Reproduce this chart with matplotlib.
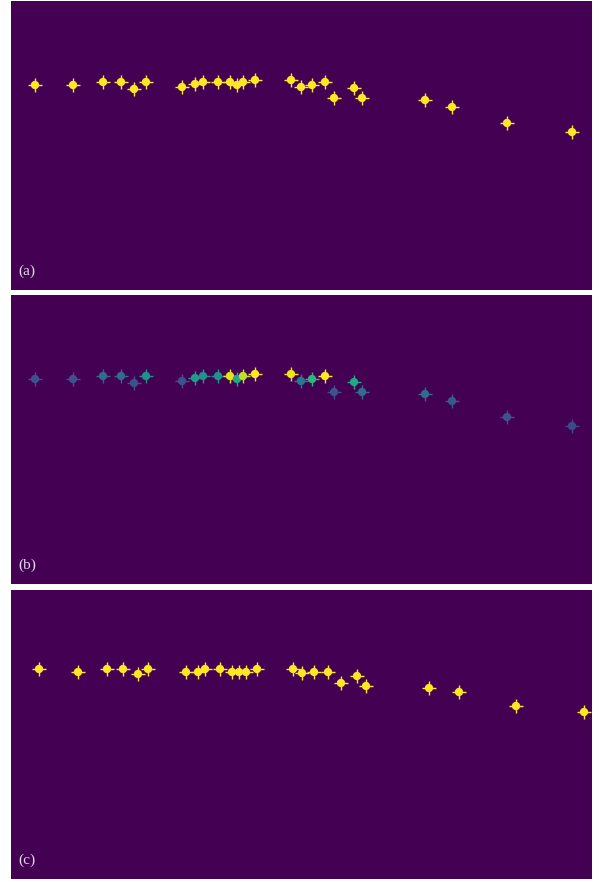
import numpy as np
import matplotlib
matplotlib.use('Agg')
import matplotlib.pyplot as plt

# blob centres, in pixel units inside each 581 x 289 panel
x_ab = [24, 62, 92, 110, 123, 135, 171, 184, 192, 207, 219, 226, 232,
        244, 280, 290, 301, 314, 323, 343, 351, 414, 441, 496, 561]
y_ab = [84, 84, 81, 81, 88, 81, 86, 83, 81, 81, 81, 84, 81,
        79, 79, 86, 84, 81, 97, 87, 97, 99, 106, 122, 131]

x_c = [28, 67, 96, 112, 127, 137, 175, 187, 194, 209, 221, 228, 235,
       246, 282, 291, 303, 317, 330, 346, 355, 418, 448, 505, 573]
y_c = [79, 82, 79, 79, 84, 79, 82, 82, 79, 79, 82, 82, 82,
       79, 79, 83, 82, 82, 93, 86, 96, 98, 102, 116, 122]

# intensity of each blob in panel (b)
val_b = [0.25, 0.25, 0.35, 0.35, 0.25, 0.5, 0.25, 0.55, 0.5, 0.5, 0.95, 0.6, 0.9,
         1.0, 0.97, 0.4, 0.65, 1.0, 0.25, 0.6, 0.35, 0.35, 0.28, 0.25, 0.22]

labels = ['(a)', '(b)', '(c)']

W, H = 581, 289
cmap = plt.get_cmap('viridis')

fig = plt.figure(figsize=(6, 8.82), dpi=100)
tops = [1, 295, 590]

panels = [
    (x_ab, y_ab, [1.0] * len(x_ab)),
    (x_ab, y_ab, val_b),
    (x_c, y_c, [1.0] * len(x_c)),
]

for i, (xs, ys, vals) in enumerate(panels):
    top = tops[i]
    ax = fig.add_axes([11 / 600, 1 - (top + H) / 882, W / 600, H / 882])
    ax.set_facecolor(cmap(0.0))
    ax.set_xlim(0, W)
    ax.set_ylim(H, 0)
    ax.set_xticks([])
    ax.set_yticks([])
    for s in ax.spines.values():
        s.set_visible(False)

    cols = [cmap(v) for v in vals]
    ax.scatter(xs, ys, s=95, marker='+', c=cols, linewidths=1.0, zorder=2)
    ax.scatter(xs, ys, s=36, marker='o', c=cols, edgecolors='none', zorder=3)

    ax.text(7, 270, labels[i], fontsize=11, family='Liberation Serif',
            color='#e2d6ea', ha='left', va='center')

fig.savefig('out.png', dpi=100, facecolor='white')
